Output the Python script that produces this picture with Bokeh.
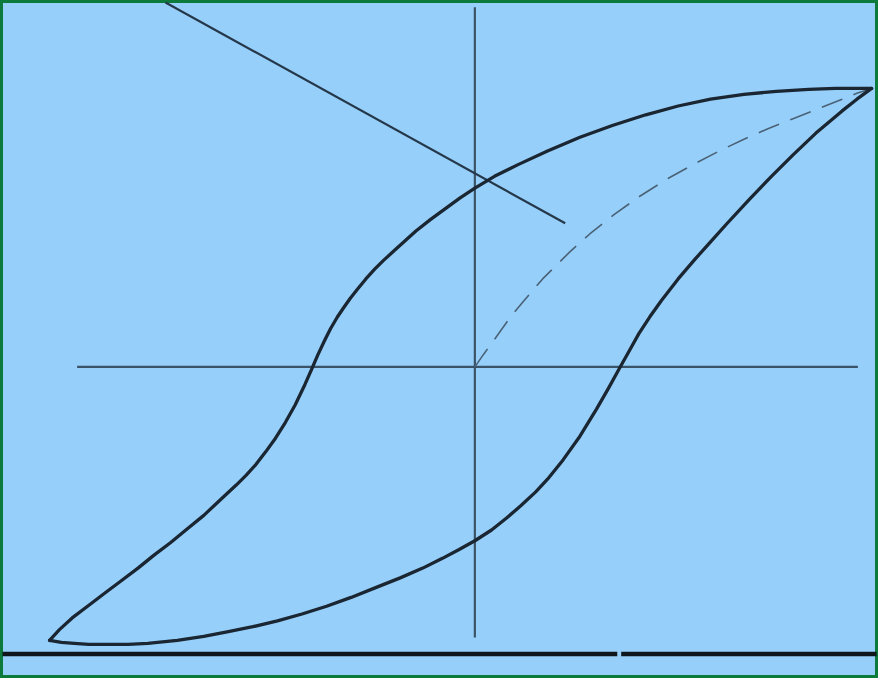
from bokeh.plotting import figure
from bokeh.models import Range1d
from bokeh.embed import file_html
from bokeh.resources import INLINE

# Hysteresis loop (arbitrary units: H horizontal, B vertical)
# descending branch (from +saturation to -saturation)
upper_H = [4.04, 3.67, 3.40, 3.07, 2.74, 2.40, 2.07, 1.74, 1.40, 1.07, 0.74, 0.44, 0.20, 0.00,
           -0.15, -0.30, -0.45, -0.60, -0.71, -0.82, -0.93, -1.02, -1.11, -1.20, -1.27, -1.34,
           -1.40, -1.47, -1.53, -1.60, -1.66, -1.73, -1.83, -1.93, -2.03, -2.13, -2.23, -2.33,
           -2.43, -2.58, -2.76, -2.93, -3.10, -3.27, -3.43, -3.60, -3.76, -3.93, -4.10, -4.23, -4.33]
upper_B = [2.85, 2.85, 2.84, 2.82, 2.79, 2.74, 2.67, 2.58, 2.47, 2.35, 2.21, 2.07, 1.95, 1.83,
           1.73, 1.62, 1.51, 1.39, 1.29, 1.19, 1.09, 1.00, 0.90, 0.79, 0.70, 0.60,
           0.51, 0.39, 0.27, 0.12, -0.02, -0.18, -0.39, -0.57, -0.73, -0.87, -1.00, -1.11,
           -1.21, -1.35, -1.52, -1.66, -1.80, -1.93, -2.06, -2.19, -2.31, -2.44, -2.57, -2.69, -2.80]

# ascending branch (from -saturation to +saturation)
lower_H = [-4.33, -4.21, -4.08, -3.93, -3.76, -3.53, -3.33, -3.03, -2.76, -2.51, -2.26, -2.01,
           -1.76, -1.51, -1.26, -1.01, -0.76, -0.53, -0.33, -0.16, 0.00, 0.17, 0.32, 0.47, 0.62,
           0.74, 0.90, 1.07, 1.24, 1.36, 1.47, 1.57, 1.67, 1.78, 1.90, 2.07, 2.24, 2.40, 2.57,
           2.80, 3.02, 3.24, 3.47, 3.74, 3.89, 4.04]
lower_B = [-2.80, -2.82, -2.83, -2.84, -2.84, -2.84, -2.83, -2.80, -2.76, -2.71, -2.66, -2.60,
           -2.53, -2.45, -2.36, -2.26, -2.16, -2.06, -1.96, -1.87, -1.78, -1.67, -1.55, -1.42, -1.28,
           -1.15, -0.95, -0.71, -0.43, -0.22, -0.02, 0.16, 0.34, 0.51, 0.68, 0.90, 1.10, 1.28, 1.47,
           1.72, 1.95, 2.17, 2.39, 2.62, 2.74, 2.85]

# initial magnetisation curve (dashed)
initial_H = [0.00, 0.09, 0.17, 0.27, 0.37, 0.47, 0.57, 0.69, 0.80, 0.97, 1.17, 1.42, 1.67, 1.97,
             2.24, 2.49, 2.74, 2.99, 3.24, 3.49, 3.74, 3.89, 4.04]
initial_B = [0.00, 0.13, 0.24, 0.38, 0.52, 0.64, 0.76, 0.90, 1.01, 1.18, 1.36, 1.56, 1.74, 1.93,
             2.08, 2.21, 2.33, 2.44, 2.54, 2.64, 2.74, 2.80, 2.85]

# axis lines and pointer line
h_axis_H = [-4.05, 3.90]
h_axis_B = [0.0, 0.0]
v_axis_H = [0.0, 0.0]
v_axis_B = [3.68, -2.77]
pointer_H = [-3.15, 0.92]
pointer_B = [3.73, 1.47]
base_H0 = [-4.81, 1.49]
base_H1 = [1.45, 4.09]
base_B = [-2.94, -2.94]

p = figure(width=878, height=678, output_backend="svg", toolbar_location=None,
           x_range=Range1d(-4.83, 4.11), y_range=Range1d(-3.19, 3.75),
           min_border=0, background_fill_color="#97CFFB", border_fill_color="#97CFFB",
           outline_line_color="#0B7A3B", outline_line_width=5)
p.axis.visible = False
p.grid.visible = False

p.line(h_axis_H, h_axis_B, line_color="#3b5366", line_width=2.2)
p.line(v_axis_H, v_axis_B, line_color="#3b5366", line_width=2.2)
p.line(pointer_H, pointer_B, line_color="#25384a", line_width=2.2)
p.segment(x0=base_H0, y0=base_B, x1=base_H1, y1=base_B, line_color="#0f161c", line_width=4.5)

p.line(initial_H, initial_B, line_color="#4a6276", line_width=1.6, line_dash="22 12")
p.line(upper_H, upper_B, line_color="#1a2631", line_width=3.3, line_join="round", line_cap="round")
p.line(lower_H, lower_B, line_color="#1a2631", line_width=3.3, line_join="round", line_cap="round")

open("out.html", "w").write(file_html(p, INLINE))
